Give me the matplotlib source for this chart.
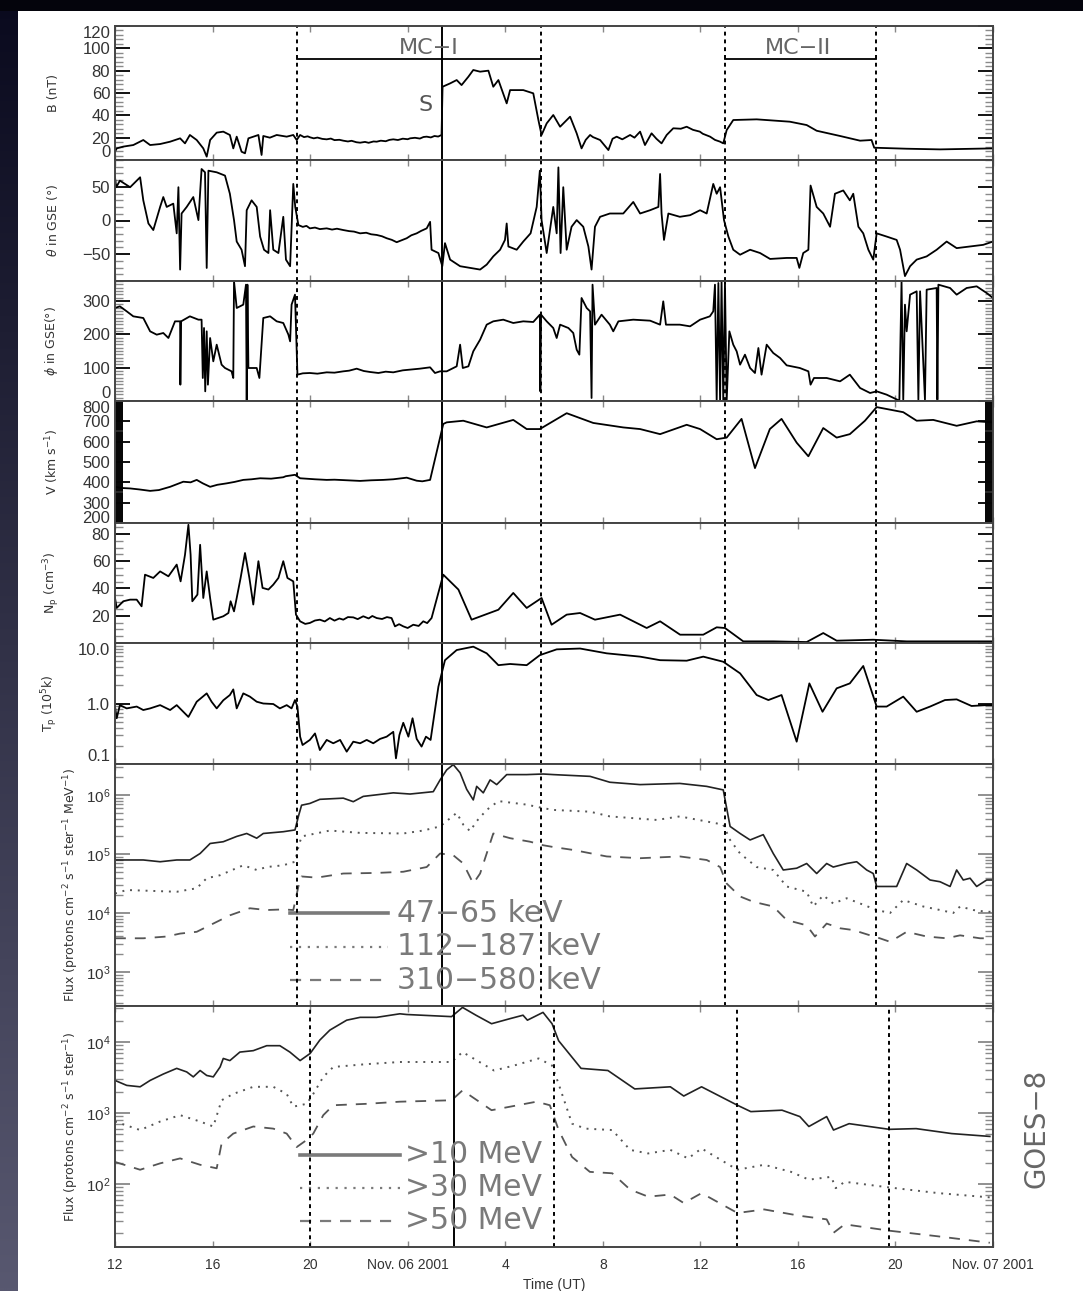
import numpy as np
import matplotlib
matplotlib.use("Agg")
import matplotlib.pyplot as plt
from matplotlib.ticker import MultipleLocator, FixedLocator, LogLocator, FuncFormatter, NullFormatter
from matplotlib.patches import Rectangle

# ---------------------------------------------------------------------------
# Time is in hours from 2001-11-05 00 UT (24 = Nov 06 00 UT, 48 = Nov 07 00 UT)
# ---------------------------------------------------------------------------

# Magnetic field magnitude (nT)
B_PTS = [(12.00, 7.4), (12.07, 10.4), (12.34, 12.0), (12.75, 13.4), (13.16, 17.9), (13.44, 13.4),
         (13.85, 14.3), (14.26, 16.4), (14.67, 19.4), (14.87, 14.9), (15.07, 22.4), (15.35, 17.9),
         (15.62, 10.4), (15.76, 3.0), (15.90, 17.9), (16.17, 24.5), (16.44, 25.4), (16.71, 22.4),
         (16.85, 10.4), (16.99, 20.9), (17.19, 7.4), (17.33, 6.0), (17.47, 19.4), (17.67, 20.9),
         (17.88, 22.4), (18.01, 4.5), (18.08, 21.5), (18.35, 20.0), (18.63, 22.4), (19.04, 20.9),
         (19.31, 22.4), (19.45, 17.9), (19.59, 22.4), (19.75, 20.5), (19.90, 21.2), (20.00, 20.3),
         (20.15, 19.4), (20.30, 20.1), (20.50, 18.9), (20.68, 18.5), (20.85, 19.2), (21.00, 17.8),
         (21.20, 18.1), (21.36, 17.3), (21.55, 16.6), (21.70, 17.2), (21.90, 15.9), (22.05, 15.5),
         (22.25, 16.2), (22.40, 15.4), (22.60, 16.6), (22.73, 16.4), (22.90, 17.3), (23.10, 16.8),
         (23.25, 18.0), (23.41, 18.5), (23.60, 17.9), (23.80, 19.1), (24.00, 18.6), (24.10, 19.4),
         (24.30, 19.9), (24.50, 19.2), (24.65, 20.6), (24.78, 20.9), (24.95, 20.2), (25.10, 21.5),
         (25.25, 21.0), (25.39, 22.4),
         (25.43, 65.6), (25.74, 68.6), (26.01, 71.6), (26.21, 67.1), (26.49, 74.6), (26.69, 80.6),
         (26.97, 79.1), (27.31, 80.0), (27.51, 65.6), (27.72, 71.6), (28.06, 50.7), (28.20, 62.6),
         (28.74, 62.6), (29.15, 59.7), (29.36, 35.8), (29.49, 22.4), (29.70, 32.8), (29.97, 40.3),
         (30.25, 29.8), (30.66, 38.8), (30.93, 23.9), (31.13, 10.4), (31.30, 18.0), (31.48, 22.4),
         (31.60, 20.5), (31.89, 17.9), (32.00, 15.0), (32.23, 8.9), (32.40, 19.0), (32.57, 20.9),
         (32.80, 18.5), (33.12, 22.4), (33.30, 20.0), (33.53, 25.4), (33.73, 13.4), (34.00, 23.9),
         (34.20, 19.0), (34.41, 14.9), (34.62, 22.4), (34.89, 28.4), (35.20, 28.0), (35.44, 29.8),
         (35.70, 27.0), (35.98, 25.4), (36.10, 23.5), (36.40, 20.9), (36.60, 18.0), (36.80, 16.5),
         (36.94, 14.9), (37.08, 26.8), (37.35, 35.8), (38.31, 36.4), (39.67, 34.3), (40.36, 31.3),
         (40.77, 26.2), (41.73, 21.5), (42.55, 17.3), (43.02, 17.9), (43.13, 11.0), (44.46, 10.1),
         (45.83, 9.5), (47.87, 10.4), (48.00, 10.4)]

# Field latitude theta in GSE (deg)
THETA_PTS = [(12.00, 64.3), (12.05, 49.5), (12.20, 59.3), (12.62, 49.5), (13.03, 64.3), (13.16, 30.0),
             (13.37, -4.4), (13.57, -14.2), (13.85, 20.2), (13.98, 34.9), (14.12, 20.2), (14.39, 25.1),
             (14.53, -19.1), (14.60, 49.5), (14.67, -73.0), (14.73, 10.4), (14.94, 20.2), (15.21, 34.9),
             (15.42, 0.6), (15.55, 76.6), (15.69, 71.7), (15.76, -70.6), (15.83, 74.1), (16.17, 71.7),
             (16.51, 66.8), (16.71, 39.8), (16.88, 0.6), (16.99, -31.3), (17.19, -43.5), (17.33, -68.0),
             (17.40, 15.3), (17.60, 30.0), (17.81, 20.2), (17.95, -23.9), (18.11, -43.5), (18.29, -48.4),
             (18.36, 15.3), (18.49, -43.5), (18.70, -48.4), (18.90, 5.5), (19.01, -58.2), (19.18, -68.0),
             (19.31, 54.4), (19.39, 20.2), (19.52, -6.8), (19.70, -9.5), (19.85, -8.0), (19.99, -11.7),
             (20.20, -10.5), (20.40, -12.8), (20.68, -11.7), (20.90, -13.5), (21.10, -12.2), (21.36, -14.2),
             (21.60, -15.8), (21.80, -16.5), (22.05, -19.1), (22.30, -18.2), (22.50, -20.5), (22.73, -21.5),
             (22.95, -23.5), (23.14, -26.4), (23.35, -28.8), (23.55, -32.3), (23.75, -29.5), (23.96, -26.4),
             (24.15, -22.0), (24.37, -19.1), (24.55, -15.5), (24.78, -11.7), (24.92, -2.0), (24.98, -43.5),
             (25.26, -48.4), (25.42, -68.0), (25.53, -33.7),
             (25.74, -58.2), (26.15, -68.0), (26.56, -70.5), (26.97, -73.0), (27.24, -65.6), (27.51, -53.4),
             (27.79, -43.5), (27.99, -28.9), (28.06, -4.4), (28.13, -38.7), (28.47, -43.5), (28.74, -31.3),
             (29.04, -19.1), (29.29, 20.2), (29.42, 74.1), (29.49, 0.6), (29.70, -48.4), (29.97, 20.2),
             (30.11, -19.1), (30.18, 79.0), (30.27, -48.4), (30.38, 49.5), (30.52, -43.5), (30.72, -9.3),
             (30.93, 0.6), (31.20, -9.3), (31.41, -38.7), (31.54, -73.0), (31.68, -9.3), (31.89, 5.5),
             (32.29, 10.4), (32.84, 10.4), (33.25, 27.6), (33.53, 10.4), (33.94, 15.3), (34.28, 20.2),
             (34.35, 69.2), (34.41, 10.4), (34.51, -28.9), (34.69, 10.4), (35.16, 5.5), (35.58, 7.9),
             (35.99, 15.3), (36.26, 10.4), (36.53, 54.4), (36.67, 39.8), (36.81, 49.5), (36.97, 0.6),
             (37.15, -23.9), (37.35, -43.5), (37.63, -50.9), (38.04, -43.5), (38.45, -48.4), (38.86, -57.2),
             (39.54, -55.7), (39.95, -55.7), (40.06, -70.5), (40.22, -48.4), (40.43, -43.5), (40.52, 52.0),
             (40.77, 20.2), (41.04, 10.4), (41.32, -9.3), (41.52, 39.8), (41.86, 44.7), (42.13, 30.0),
             (42.27, 39.8), (42.48, -9.3), (42.68, -19.1), (42.89, -43.5), (43.09, -58.2), (43.23, -19.1),
             (43.64, -23.9), (44.05, -28.9), (44.19, -43.5), (44.39, -82.7), (44.60, -68.0), (44.87, -58.2),
             (45.28, -53.4), (45.69, -43.5), (46.10, -31.3), (46.51, -41.1), (47.06, -38.7), (47.60, -36.2),
             (48.00, -31.3)]

# Field longitude phi in GSE (deg)
PHI_PTS = [(12.00, 279), (12.20, 284), (12.48, 269), (12.75, 254), (13.16, 249), (13.44, 209), (13.71, 199),
           (13.98, 204), (14.19, 189), (14.46, 239), (14.67, 239), (14.68, 49), (14.71, 239), (15.07, 254),
           (15.42, 244), (15.55, 244), (15.60, 69), (15.65, 219), (15.70, 29), (15.76, 209), (15.81, 49),
           (15.90, 189), (16.03, 119), (16.17, 169), (16.37, 109), (16.51, 99), (16.78, 89), (16.85, 69),
           (16.88, 359), (16.99, 279), (17.26, 289), (17.37, 349), (17.40, 0), (17.43, 349), (17.47, 99),
           (17.81, 99), (17.92, 69), (18.08, 249), (18.36, 254), (18.63, 239), (18.90, 234), (19.11, 199),
           (19.18, 179), (19.24, 289), (19.38, 319), (19.48, 79), (19.70, 83), (19.99, 84), (20.30, 82),
           (20.68, 86), (21.00, 85), (21.36, 89), (21.60, 91), (21.91, 97), (22.20, 90), (22.46, 87),
           (22.80, 84), (23.10, 88), (23.41, 86), (23.80, 92), (24.10, 94), (24.50, 97), (24.92, 101),
           (25.12, 84), (25.33, 89),
           (25.60, 89), (26.01, 104), (26.15, 169), (26.26, 99), (26.49, 104), (26.69, 149), (26.97, 184),
           (27.24, 229), (27.51, 239), (27.92, 244), (28.33, 234), (28.74, 239), (29.15, 237), (29.42, 259),
           (29.44, 29), (29.47, 259), (29.70, 239), (29.97, 219), (30.11, 189), (30.25, 229), (30.59, 219),
           (30.79, 204), (30.93, 154), (31.04, 139), (31.13, 309), (31.34, 279), (31.48, 269), (31.54, 9),
           (31.58, 349), (31.68, 229), (31.95, 259), (32.29, 229), (32.43, 209), (32.64, 239), (33.25, 244),
           (33.94, 241), (34.35, 229), (34.48, 299), (34.59, 229), (35.16, 229), (35.58, 224), (35.99, 244),
           (36.39, 254), (36.53, 269), (36.60, 349), (36.67, 0), (36.74, 354), (36.81, 0), (36.87, 359),
           (36.94, 0), (37.01, 354), (37.08, 0), (37.19, 209), (37.35, 169), (37.49, 149), (37.63, 109),
           (37.83, 139), (38.04, 99), (38.24, 84), (38.38, 159), (38.51, 79), (38.72, 169), (38.99, 144),
           (39.27, 129), (39.54, 107), (40.08, 99), (40.43, 89), (40.52, 49), (40.66, 69), (41.18, 69),
           (41.73, 59), (42.13, 79), (42.55, 39), (42.96, 24), (43.23, 29), (43.64, 19), (44.16, 1),
           (44.25, 359), (44.32, 4), (44.39, 289), (44.46, 209), (44.60, 319), (44.87, 329), (44.94, 4),
           (45.01, 329), (45.21, 4), (45.28, 334), (45.69, 339), (45.72, 4), (45.76, 349), (46.24, 339),
           (46.51, 319), (46.92, 339), (47.33, 344), (47.74, 324), (48.00, 309)]

# Solar wind speed (km/s)
V_PTS = [(12.00, 378), (12.30, 372), (12.62, 370), (13.00, 365), (13.44, 358), (13.80, 362), (14.26, 378),
         (14.80, 403), (15.10, 400), (15.35, 412), (15.60, 395), (15.90, 378), (16.20, 388), (16.58, 395),
         (16.90, 402), (17.26, 412), (17.60, 415), (17.95, 420), (18.40, 418), (18.90, 425), (19.00, 430),
         (19.38, 437), (19.59, 420), (20.20, 415), (20.68, 412), (21.00, 413), (21.70, 409), (22.05, 407),
         (22.50, 410), (23.00, 412), (23.41, 415), (23.96, 423), (24.37, 408), (24.60, 405), (24.92, 412),
         (25.46, 687), (25.60, 695), (26.28, 703), (27.24, 670), (28.33, 707), (28.88, 662), (29.42, 662),
         (30.52, 740), (31.61, 692), (32.84, 670), (33.53, 662), (34.35, 637), (35.44, 683), (35.99, 662),
         (36.67, 612), (37.08, 620), (37.69, 712), (38.24, 470), (38.85, 662), (39.33, 712), (39.95, 595),
         (40.43, 528), (41.04, 667), (41.59, 620), (42.13, 637), (42.75, 703), (43.23, 770), (44.32, 745),
         (44.87, 703), (45.55, 707), (46.51, 678), (47.33, 700), (48.00, 695)]

# Proton density (cm^-3)
NP_PTS = [(12.00, 33.0), (12.07, 25.7), (12.34, 30.6), (12.62, 31.8), (12.89, 31.8), (13.09, 26.9),
          (13.23, 50.1), (13.57, 47.7), (13.85, 52.5), (14.19, 48.9), (14.53, 57.5), (14.69, 45.2),
          (14.87, 64.7), (15.01, 86.7), (15.10, 64.7), (15.17, 30.6), (15.38, 35.5), (15.49, 72.0),
          (15.62, 33.0), (15.76, 52.5), (15.90, 33.0), (16.03, 17.1), (16.44, 19.6), (16.65, 22.0),
          (16.74, 30.6), (16.88, 23.2), (16.99, 33.0), (17.15, 47.7), (17.33, 66.0), (17.51, 47.7),
          (17.67, 28.2), (17.88, 60.0), (18.05, 40.4), (18.29, 39.2), (18.49, 42.8), (18.70, 47.7),
          (18.90, 60.0), (19.07, 47.7), (19.31, 45.2), (19.42, 20.8), (19.59, 15.9), (19.80, 14.0),
          (19.99, 14.7), (20.20, 16.5), (20.40, 17.1), (20.60, 15.8), (20.81, 18.3), (21.00, 16.4),
          (21.20, 18.0), (21.36, 17.1), (21.55, 19.0), (21.77, 18.8), (21.95, 17.5), (22.18, 19.6),
          (22.40, 18.0), (22.55, 19.8), (22.73, 18.3), (22.95, 17.6), (23.15, 19.0), (23.34, 18.3),
          (23.48, 12.2), (23.65, 13.8), (23.82, 12.2), (24.00, 11.0), (24.23, 13.4), (24.45, 12.5),
          (24.64, 15.9), (24.80, 14.6), (24.98, 18.3),
          (25.46, 50.1), (26.08, 39.2), (26.62, 17.1), (27.72, 24.4), (28.33, 36.7), (28.88, 25.7),
          (29.49, 33.0), (29.90, 13.4), (30.52, 20.8), (31.07, 22.0), (31.68, 17.1), (32.71, 20.8),
          (33.80, 11.0), (34.35, 15.9), (35.17, 6.1), (36.12, 6.1), (36.67, 11.5), (37.01, 11.0),
          (37.76, 1.2), (38.99, 1.2), (40.36, 0.7), (41.04, 7.3), (41.59, 1.7), (43.09, 2.4),
          (44.46, 1.2), (45.83, 1.2), (48.00, 1.2)]

# Proton temperature (10^5 K)
TP_PTS = [(12.00, 0.89), (12.07, 0.57), (12.20, 0.94), (12.48, 0.83), (12.89, 0.89), (13.16, 0.78),
          (13.44, 0.83), (13.85, 0.94), (14.26, 0.78), (14.53, 0.94), (14.80, 0.73), (15.01, 0.60),
          (15.35, 1.07), (15.76, 1.47), (15.96, 1.07), (16.17, 0.83), (16.44, 1.13), (16.71, 1.38),
          (16.85, 1.71), (16.99, 0.83), (17.26, 1.47), (17.53, 1.30), (17.81, 1.07), (18.08, 1.00),
          (18.49, 0.98), (18.76, 0.83), (19.04, 0.94), (19.24, 0.83), (19.38, 1.14), (19.48, 0.89),
          (19.59, 0.283), (19.69, 0.206), (19.99, 0.25), (20.20, 0.32), (20.40, 0.17), (20.68, 0.25),
          (20.95, 0.22), (21.23, 0.25), (21.50, 0.16), (21.77, 0.234), (22.05, 0.22), (22.32, 0.25),
          (22.59, 0.22), (22.87, 0.26), (23.14, 0.283), (23.41, 0.34), (23.52, 0.124), (23.66, 0.30),
          (23.82, 0.48), (24.03, 0.283), (24.20, 0.57), (24.37, 0.26), (24.57, 0.194), (24.75, 0.283),
          (24.94, 0.25), (25.26, 1.9), (25.53, 5.2), (26.01, 7.65), (26.69, 8.7), (27.24, 6.75),
          (27.72, 4.3), (28.20, 4.5), (28.88, 4.3), (29.42, 6.3), (30.11, 7.85), (31.07, 8.1),
          (32.16, 6.75), (33.53, 5.95), (34.35, 5.2), (35.44, 5.1), (36.12, 5.95), (36.94, 4.9),
          (37.63, 3.15), (38.31, 1.38), (38.79, 1.14), (39.33, 1.38), (39.95, 0.234), (40.47, 2.15),
          (41.01, 0.73), (41.59, 1.78), (42.13, 2.15), (42.68, 4.17), (43.23, 0.89), (43.64, 0.89),
          (44.32, 1.3), (44.87, 0.73), (45.42, 0.89), (46.03, 1.14), (46.51, 1.17), (47.12, 0.91),
          (47.74, 0.94), (48.00, 0.94)]

# Low-energy proton flux, log10(protons cm^-2 s^-1 sr^-1 MeV^-1)
LE_LABELS = ["47\u221265 keV", "112\u2212187 keV", "310\u2212580 keV"]
LE1_PTS = [(12.00, 4.90), (13.16, 4.90), (13.85, 4.87), (14.53, 4.90), (15.07, 4.90), (15.49, 5.01),
           (15.90, 5.18), (16.44, 5.21), (16.99, 5.30), (17.40, 5.35), (17.81, 5.27), (18.08, 5.35),
           (18.90, 5.38), (19.38, 5.41), (19.52, 5.64), (19.65, 5.83), (19.99, 5.86), (20.40, 5.93),
           (21.36, 5.95), (21.77, 5.89), (22.18, 5.98), (23.41, 6.04), (24.10, 6.02), (25.05, 6.06),
           (25.33, 6.26), (25.60, 6.43), (25.87, 6.52), (26.15, 6.38), (26.42, 6.10), (26.69, 5.92),
           (26.83, 6.15), (27.10, 6.04), (27.38, 6.26), (27.65, 6.18), (28.06, 6.35), (28.88, 6.35),
           (29.56, 6.36), (29.97, 6.35), (31.48, 6.32), (32.29, 6.22), (33.53, 6.18), (35.16, 6.20),
           (36.26, 6.15), (36.94, 6.09), (37.22, 5.47), (37.63, 5.35), (38.04, 5.24), (38.58, 5.33),
           (38.99, 5.01), (39.40, 4.73), (39.95, 4.76), (40.36, 4.84), (40.77, 4.67), (41.18, 4.84),
           (41.45, 4.78), (42.00, 4.84), (42.41, 4.87), (42.82, 4.73), (43.09, 4.67), (43.23, 4.45),
           (44.05, 4.45), (44.46, 4.84), (44.87, 4.73), (45.42, 4.56), (45.83, 4.53), (46.24, 4.45),
           (46.51, 4.73), (46.78, 4.56), (47.06, 4.59), (47.33, 4.45), (47.74, 4.56), (48.00, 4.56)]
LE2_PTS = [(12.00, 4.33), (12.48, 4.39), (14.53, 4.36), (15.35, 4.42), (15.76, 4.59), (16.30, 4.64),
           (17.26, 4.81), (17.81, 4.73), (18.22, 4.78), (18.90, 4.81), (19.38, 4.87), (19.52, 5.12),
           (19.65, 5.30), (20.81, 5.40), (22.05, 5.36), (23.82, 5.35), (24.64, 5.40), (25.33, 5.47),
           (26.01, 5.70), (26.28, 5.50), (26.56, 5.39), (26.83, 5.56), (27.24, 5.75), (27.72, 5.90),
           (28.88, 5.84), (29.56, 5.78), (29.97, 5.75), (31.48, 5.72), (32.29, 5.64), (34.21, 5.58),
           (35.16, 5.64), (36.94, 5.50), (37.22, 5.24), (37.63, 5.01), (38.31, 4.78), (38.99, 4.73),
           (39.54, 4.45), (40.36, 4.36), (40.63, 4.11), (41.04, 4.30), (41.45, 4.16), (42.00, 4.25),
           (42.68, 4.14), (43.23, 4.05), (43.78, 4.00), (44.32, 4.22), (45.14, 4.11), (45.83, 4.05),
           (46.37, 4.00), (46.65, 4.11), (47.19, 4.05), (47.74, 4.02), (48.00, 4.02)]
LE3_PTS = [(12.00, 3.57), (13.16, 3.57), (14.12, 3.60), (14.67, 3.65), (15.35, 3.68), (16.03, 3.82),
           (16.71, 3.96), (17.53, 4.08), (18.22, 4.05), (18.90, 4.06), (19.31, 4.05), (19.52, 4.45),
           (19.65, 4.62), (20.27, 4.60), (21.36, 4.67), (22.73, 4.68), (23.82, 4.70), (24.78, 4.78),
           (25.33, 5.01), (25.87, 4.98), (26.28, 4.84), (26.69, 4.50), (26.97, 4.67), (27.24, 5.01),
           (27.51, 5.35), (28.20, 5.27), (29.02, 5.21), (29.56, 5.15), (29.97, 5.12), (30.79, 5.07),
           (32.16, 4.96), (33.53, 4.93), (35.16, 4.96), (36.26, 4.90), (36.81, 4.78), (37.08, 4.50),
           (37.63, 4.28), (38.17, 4.19), (38.99, 4.11), (39.54, 3.88), (40.36, 3.79), (40.70, 3.60),
           (41.18, 3.82), (41.73, 3.74), (42.27, 3.71), (42.96, 3.62), (43.36, 3.57), (43.78, 3.51),
           (44.46, 3.68), (45.28, 3.60), (46.10, 3.57), (46.65, 3.62), (47.47, 3.57), (48.00, 3.57)]

# GOES-8 integral proton flux, log10(protons cm^-2 s^-1 sr^-1)
HE_LABELS = [">10 MeV", ">30 MeV", ">50 MeV"]
HE1_PTS = [(12.00, 3.46), (12.48, 3.39), (13.03, 3.37), (13.44, 3.46), (13.98, 3.55), (14.53, 3.63),
           (14.94, 3.58), (15.21, 3.51), (15.49, 3.60), (15.76, 3.53), (16.03, 3.51), (16.31, 3.65),
           (16.44, 3.77), (16.71, 3.74), (17.12, 3.86), (17.67, 3.88), (18.22, 3.95), (18.76, 3.95),
           (19.17, 3.86), (19.59, 3.74), (20.00, 3.84), (20.40, 4.03), (20.81, 4.17), (21.50, 4.31),
           (22.05, 4.35), (22.73, 4.35), (23.68, 4.40), (23.96, 4.39), (25.80, 4.36), (26.25, 4.49),
           (26.80, 4.38), (27.44, 4.26), (28.18, 4.33), (28.73, 4.38), (28.91, 4.31), (29.55, 4.42),
           (29.92, 4.26), (30.19, 4.02), (31.11, 3.63), (32.21, 3.60), (33.31, 3.34), (34.77, 3.37),
           (35.32, 3.24), (36.05, 3.37), (37.52, 3.11), (38.07, 3.02), (39.35, 3.04), (40.08, 2.95),
           (40.45, 2.81), (41.18, 2.95), (41.46, 2.76), (42.10, 2.85), (43.75, 2.77), (44.85, 2.78),
           (46.31, 2.71), (47.87, 2.67)]
HE2_PTS = [(12.00, 2.88), (13.03, 2.76), (13.85, 2.88), (14.67, 2.97), (15.49, 2.88), (16.03, 2.81),
           (16.37, 3.18), (16.85, 3.27), (17.67, 3.37), (18.49, 3.37), (19.04, 3.27), (19.31, 3.09),
           (19.86, 3.13), (20.13, 3.27), (20.54, 3.51), (20.95, 3.65), (22.32, 3.69), (23.68, 3.72),
           (25.80, 3.72), (26.25, 3.86), (27.54, 3.60), (28.36, 3.67), (29.37, 3.77), (29.92, 3.67),
           (30.19, 3.41), (30.74, 2.85), (31.29, 2.78), (32.39, 2.76), (33.12, 2.48), (33.86, 2.43),
           (34.77, 2.48), (35.50, 2.36), (36.05, 2.50), (37.52, 2.20), (38.62, 2.27), (39.72, 2.17),
           (40.45, 2.06), (41.37, 2.10), (41.55, 1.94), (41.92, 2.03), (43.75, 1.95), (45.76, 1.87),
           (47.87, 1.81)]
HE3_PTS = [(12.00, 2.31), (13.03, 2.20), (13.85, 2.29), (14.67, 2.36), (15.49, 2.27), (16.17, 2.22),
           (16.37, 2.57), (16.85, 2.71), (17.67, 2.81), (18.49, 2.78), (19.04, 2.71), (19.45, 2.52),
           (19.86, 2.62), (20.13, 2.71), (20.54, 2.97), (20.95, 3.11), (22.32, 3.13), (23.68, 3.16),
           (25.80, 3.18), (26.25, 3.32), (27.44, 3.04), (29.28, 3.16), (29.83, 3.11), (30.19, 2.76),
           (30.74, 2.38), (31.47, 2.17), (32.39, 2.15), (33.12, 1.92), (33.86, 1.82), (34.77, 1.85),
           (35.32, 1.73), (36.05, 1.87), (37.52, 1.59), (38.62, 1.64), (40.08, 1.55), (41.18, 1.50),
           (41.46, 1.31), (41.92, 1.43), (43.75, 1.34), (45.76, 1.26), (47.87, 1.17)]

# Event boundaries (hours): MC-I start, shock S, MC-I end, MC-II start, MC-II end
EVENT_T = [19.46, 25.39, 29.47, 37.00, 43.20]
EVENT_T_GOES = [20.00, 25.92, 29.98, 37.50, 43.75]
EVENT_SOLID = [False, True, False, False, False]

XTICKS = [12, 16, 20, 24, 28, 32, 36, 40, 44, 48]
XTICK_LABELS = ["12", "16", "20", "Nov. 06 2001", "4", "8", "12", "16", "20", "Nov. 07 2001"]


def unzip(pts):
    a = np.array(pts, dtype=float)
    return a[:, 0], a[:, 1]


W, H = 1083, 1291
fig = plt.figure(figsize=(W / 100, H / 100), dpi=100, facecolor="white")

# dark frame around the page: top band and shaded left strip
bg = fig.add_axes([0, 0, 1, 1], zorder=-10)
bg.set_xlim(0, W)
bg.set_ylim(H, 0)
bg.axis("off")
top_c = np.array([10, 10, 30]) / 255.0
bot_c = np.array([88, 88, 112]) / 255.0
frac = np.linspace(0, 1, 256)[:, None, None]
grad = top_c[None, None, :] * (1 - frac) + bot_c[None, None, :] * frac
bg.imshow(grad, extent=(0, 18, H, 0), aspect="auto", interpolation="bilinear")
bg.add_patch(Rectangle((0, 0), W, 11, color="#04040c", lw=0))

# panel edges in pixels from top
EDGES = [26, 160, 281, 401, 523, 643, 764, 1006, 1247]
LEFT, RIGHT = 115, 993

axes = []
for i in range(len(EDGES) - 1):
    top, bot = EDGES[i], EDGES[i + 1]
    ax = fig.add_axes([LEFT / W, 1 - bot / H, (RIGHT - LEFT) / W, (bot - top) / H])
    axes.append(ax)

TICK_FONT = "Liberation Sans"
LBL_COLOR = "#333333"

for ax in axes:
    ax.set_xlim(12, 48)
    for sp in ax.spines.values():
        sp.set_color("#444444")
        sp.set_linewidth(1.4)
    ax.xaxis.set_major_locator(FixedLocator(XTICKS))
    ax.tick_params(axis="x", which="major", direction="in", length=4, width=1.0,
                   color="#888888", top=True, bottom=True, labelbottom=False)
    ax.tick_params(axis="x", which="minor", bottom=False, top=False)
    ax.tick_params(axis="y", which="major", direction="in", length=11, width=1.3,
                   color="black", left=True, right=True, labelsize=12, labelcolor=LBL_COLOR)
    ax.tick_params(axis="y", which="minor", direction="in", length=6, width=1.0,
                   color="#8a8a8a", left=True, right=True)

LINE_KW = dict(color="black", lw=1.3)

# --- B ---
ax = axes[0]
t, v = unzip(B_PTS)
ax.plot(t, v, **LINE_KW)
ax.set_ylim(0, 120)
ax.yaxis.set_major_locator(MultipleLocator(20))
ax.yaxis.set_minor_locator(MultipleLocator(4))

# --- theta ---
ax = axes[1]
t, v = unzip(THETA_PTS)
ax.plot(t, v, **LINE_KW)
ax.set_ylim(-90, 90)
ax.yaxis.set_major_locator(FixedLocator([-50, 0, 50]))
ax.yaxis.set_minor_locator(MultipleLocator(10))

# --- phi ---
ax = axes[2]
t, v = unzip(PHI_PTS)
ax.plot(t, v, **LINE_KW)
ax.set_ylim(0, 360)
ax.yaxis.set_major_locator(FixedLocator([0, 100, 200, 300]))
ax.yaxis.set_minor_locator(MultipleLocator(10))

# --- V ---
ax = axes[3]
t, v = unzip(V_PTS)
ax.plot(t, v, **LINE_KW)
ax.set_ylim(200, 800)
ax.yaxis.set_major_locator(MultipleLocator(100))
ax.yaxis.set_minor_locator(MultipleLocator(5))
ax.tick_params(axis="y", which="minor", color="black", width=1.2, length=6)

# --- Np ---
ax = axes[4]
t, v = unzip(NP_PTS)
ax.plot(t, v, **LINE_KW)
ax.set_ylim(0, 88)
ax.yaxis.set_major_locator(FixedLocator([20, 40, 60, 80]))
ax.yaxis.set_minor_locator(MultipleLocator(5))

# --- Tp ---
ax = axes[5]
t, v = unzip(TP_PTS)
ax.semilogy(t, v, **LINE_KW)
ax.set_ylim(0.1, 10)
ax.yaxis.set_major_locator(FixedLocator([0.1, 1.0, 10.0]))
ax.yaxis.set_major_formatter(FuncFormatter(lambda y, p: f"{y:.1f}"))
ax.yaxis.set_minor_locator(LogLocator(base=10, subs=np.arange(2, 10)))
ax.yaxis.set_minor_formatter(NullFormatter())

# --- low-energy protons ---
STYLES = [dict(ls="-", color="#222222", lw=1.2),
          dict(ls=(0, (1, 3)), color="#555555", lw=1.4),
          dict(ls=(0, (6, 5)), color="#555555", lw=1.3)]
ax = axes[6]
for pts, st in zip([LE1_PTS, LE2_PTS, LE3_PTS], STYLES):
    t, v = unzip(pts)
    ax.semilogy(t, 10 ** v, **st)
ax.set_ylim(10 ** 2.42, 10 ** 6.53)

# --- GOES protons ---
ax = axes[7]
for pts, st in zip([HE1_PTS, HE2_PTS, HE3_PTS], STYLES):
    t, v = unzip(pts)
    ax.semilogy(t, 10 ** v, **st)
ax.set_ylim(10 ** 1.11, 10 ** 4.51)

for ax in axes[6:]:
    ax.yaxis.set_major_locator(LogLocator(base=10, numticks=10))
    ax.yaxis.set_minor_locator(LogLocator(base=10, subs=np.arange(2, 10), numticks=20))
    ax.yaxis.set_minor_formatter(NullFormatter())
    ax.tick_params(axis="y", which="major", labelsize=11, color="#888888")

# legends drawn as short sample lines plus large grey labels
LEG_COLOR = "#7a7a7a"
LEG_STYLES = [dict(ls="-", lw=2.6), dict(ls=(0, (1, 3)), lw=1.6), dict(ls=(0, (5, 4)), lw=1.6)]
for ax, labels, x0, x1, xt, rows in [
        (axes[6], LE_LABELS, 0.199, 0.311, 0.321, [0.384, 0.244, 0.107]),
        (axes[7], HE_LABELS, 0.211, 0.325, 0.330, [0.382, 0.245, 0.108])]:
    for lab, st, yy in zip(labels, LEG_STYLES, rows):
        ax.plot([x0, x1], [yy, yy], transform=ax.transAxes, color=LEG_COLOR, **st)
        ax.text(xt, yy, lab, transform=ax.transAxes, fontsize=21.5, color=LEG_COLOR,
                va="center", ha="left")

# event boundary lines
for i, ax in enumerate(axes):
    times = EVENT_T_GOES if i == 7 else EVENT_T
    for tt, solid in zip(times, EVENT_SOLID):
        if solid:
            ax.axvline(tt, color="black", lw=1.4)
        else:
            ax.axvline(tt, color="black", lw=1.4, ls=(0, (2, 2)))

# magnetic cloud intervals and shock label
ax = axes[0]
ax.plot([EVENT_T[0], EVENT_T[2]], [90.5, 90.5], color="black", lw=1.3)
ax.plot([EVENT_T[3], EVENT_T[4]], [90.5, 90.5], color="black", lw=1.3)
ax.text(24.85, 91.5, "MC\u2212I", ha="center", va="bottom", fontsize=16, color="#666666")
ax.text(40.0, 91.5, "MC\u2212II", ha="center", va="bottom", fontsize=16, color="#666666")
ax.text(24.72, 49, "S", ha="center", va="center", fontsize=16, color="#555555")

# y-axis titles
YLABELS = ["B (nT)", r"$\theta$ in GSE ($\degree$)", r"$\phi$ in GSE($\degree$)",
           r"V (km s$^{-1}$)", r"N$_{\rm p}$ (cm$^{-3}$)", r"T$_{\rm p}$ (10$^{5}$k)",
           r"Flux (protons cm$^{-2}$ s$^{-1}$ ster$^{-1}$ MeV$^{-1}$)",
           r"Flux (protons cm$^{-2}$ s$^{-1}$ ster$^{-1}$)"]
YLABEL_X = [54, 52, 52, 52, 52, 50, 71, 71]
for ax, lab, xp in zip(axes, YLABELS, YLABEL_X):
    ax.text((xp - LEFT) / (RIGHT - LEFT), 0.5, lab, transform=ax.transAxes, rotation=90,
            ha="center", va="center", fontsize=9, color=LBL_COLOR)

# bottom time axis
ax = axes[-1]
ax.tick_params(axis="x", labelbottom=True, labelsize=10, labelcolor=LBL_COLOR, pad=8)
ax.set_xticklabels(XTICK_LABELS)
ax.set_xlabel("Time (UT)", fontsize=10, color=LBL_COLOR, fontfamily=TICK_FONT, labelpad=4)

fig.text(1037 / W, 1 - 1128 / H, "GOES\u22128", rotation=90, ha="center", va="center",
         fontsize=20, color="#666666")

# tick-label fonts, and keep labels at the panel edges inside their own panel
fig.canvas.draw()
for k, ax in enumerate(axes):
    lo, hi = ax.get_ylim()
    for tick in ax.yaxis.get_major_ticks():
        tick.label1.set_fontfamily(TICK_FONT)
        loc = tick.get_loc()
        if np.isclose(loc, hi, rtol=1e-6):
            tick.label1.set_verticalalignment("top")
        elif np.isclose(loc, lo, rtol=1e-6):
            # the speed panel has tightly packed labels, so it sits on the baseline instead
            tick.label1.set_verticalalignment("baseline" if k == 3 else "bottom")
for tick in axes[-1].xaxis.get_major_ticks():
    tick.label1.set_fontfamily(TICK_FONT)

fig.savefig("out.png", dpi=100, facecolor="white")
